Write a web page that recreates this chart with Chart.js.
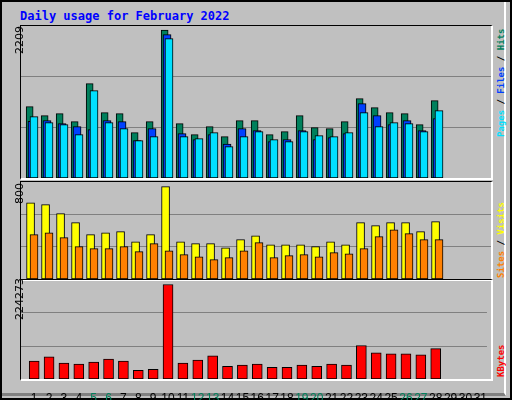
<!DOCTYPE html>
<html><head><meta charset="utf-8">
<script src="https://cdn.jsdelivr.net/npm/chart.js@4"></script>
<style>
body{margin:0;background:#fff}
#wrap{position:absolute;left:0;top:0;width:508px;height:396px;background:#c0c0c0;border:2px solid #000;font-family:"DejaVu Sans Mono",monospace}
#inner{position:absolute;left:0;top:0;width:502px;height:391px;border-right:2px solid #fff;border-bottom:3px solid #808080}
.frame{position:absolute;border-top:1px solid #000;border-left:1px solid #000;border-right:2px solid #fff;border-bottom:2px solid #fff}
canvas{position:absolute}
.title{position:absolute;left:18px;top:7px;font-weight:bold;font-size:12px;color:#0000ff}
.rot{position:absolute;transform-origin:0 0;transform:rotate(-90deg);white-space:nowrap}
.yl{font-family:"DejaVu Sans",sans-serif;font-size:11px;color:#000}
.side{font-weight:bold;font-size:9px;line-height:10px}
</style></head><body>
<div id="wrap"><div id="inner"></div>
<div class="title">Daily usage for February 2022</div>
<div class="frame" style="left:18px;top:23px;width:470px;height:152px"></div>
<div class="frame" style="left:18px;top:179px;width:470px;height:97px"></div>
<div class="frame" style="left:18px;top:277px;width:470px;height:99px"></div>
<canvas id="c1" width="470" height="152" style="left:19px;top:24px"></canvas>
<canvas id="c2" width="470" height="97" style="left:19px;top:180px"></canvas>
<canvas id="c3" width="470" height="120" style="left:19px;top:278px"></canvas>
<div class="rot yl" style="left:11px;top:52px">2209</div>
<div class="rot yl" style="left:11px;top:202px">800</div>
<div class="rot yl" style="left:11px;top:318px">224273</div>
<div class="rot side" style="left:494px;top:135px"><span style="color:#00e0ff">Pages</span> / <span style="color:#0040ff">Files</span> / <span style="color:#00805c">Hits</span></div>
<div class="rot side" style="left:494px;top:276px"><span style="color:#ff8000">Sites</span> / <span style="color:#ffff00">Visits</span></div>
<div class="rot side" style="left:494px;top:375px"><span style="color:#ff0000">KBytes</span></div>
</div>
<script>
const days=[1,2,3,4,5,6,7,8,9,10,11,12,13,14,15,16,17,18,19,20,21,22,23,24,25,26,27,28];
const dayLabels=[1,2,3,4,5,6,7,8,9,10,11,12,13,14,15,16,17,18,19,20,21,22,23,24,25,26,27,28,29,30,31];
const weekendDays=[5,6,12,13,19,20,26,27];
const hits=[1065,930,960,841,1408,975,960,677,841,2209,811,647,766,617,856,856,647,692,930,751,736,841,1184,1050,975,960,796,1154];
const files=[846,856,811,766,721,856,841,557,736,2139,662,572,647,507,736,706,542,572,706,572,602,662,1109,930,796,856,706,886];
const pages=[915,826,796,647,1303,826,736,557,617,2080,617,587,677,468,617,692,572,542,692,632,617,677,975,766,826,811,692,1005];
const visits=[661,644,566,488,384,401,410,323,384,800,323,306,306,271,341,375,297,297,297,280,323,297,488,462,488,488,410,497];
const sites=[384,401,358,280,263,263,280,237,306,245,211,193,168,185,245,315,185,202,211,193,228,219,263,367,427,393,341,341];
const kbytes=[42564,52385,37651,35196,40106,47473,42564,20463,22918,224273,37651,45018,54840,30285,32740,35196,27829,27829,32740,30285,35196,32740,79395,62206,59751,59751,57295,72028];
const maxima={top:2209,mid:800,bot:224273};

const X0=0.233,XMAX=X0+470/15;
function pts(vals,off){return vals.map((v,i)=>({x:days[i]+off,y:v}));}
function ds(vals,off,color,w){return{data:pts(vals,off),backgroundColor:color,borderColor:'#000',borderWidth:1,borderSkipped:false,barThickness:w,grouped:false};}
function yAxis(max,frac){const m=max*frac;return{min:0,max:m,afterBuildTicks:a=>{a.ticks=[1,2].map(k=>({value:m*k/3}));},
 ticks:{display:false},border:{display:false},grid:{color:'#808080',lineWidth:1,drawTicks:false},afterFit:a=>{a.width=0;}};}
function xHidden(){return{type:'linear',min:X0,max:XMAX,display:false,offset:false};}
const common={responsive:false,animation:false,devicePixelRatio:1,plugins:{legend:{display:false},tooltip:{enabled:false}},layout:{padding:0}};

// first dataset is drawn on top in Chart.js
new Chart(document.getElementById('c1'),{type:'bar',data:{datasets:[
 ds(pages,0.1,'#00e0ff',8),ds(files,-0.03,'#0040ff',8),ds(hits,-0.19,'#00805c',7)]},
 options:{...common,scales:{x:xHidden(),y:yAxis(maxima.top,152/148)}}});
new Chart(document.getElementById('c2'),{type:'bar',data:{datasets:[
 ds(sites,0.1,'#ff8000',8),ds(visits,-0.13,'#ffff00',8)]},
 options:{...common,scales:{x:xHidden(),y:yAxis(maxima.mid,97/92.3)}}});
new Chart(document.getElementById('c3'),{type:'bar',data:{datasets:[ds(kbytes,0,'#ff0000',10)]},
 options:{...common,scales:{x:{type:'linear',min:X0-0.12,max:XMAX-0.12,offset:false,
   afterBuildTicks:a=>{a.ticks=dayLabels.map(d=>({value:d}));},
   afterFit:a=>{a.height=21;},
   border:{display:false},grid:{display:false},
   ticks:{autoSkip:false,maxRotation:0,padding:4,font:{family:'Liberation Sans',size:12},
     color:c=>weekendDays.includes(c.tick.value)?'#00805c':'#000',callback:v=>String(v)}},
  y:yAxis(maxima.bot,287/274)}}});
</script>
</body></html>
